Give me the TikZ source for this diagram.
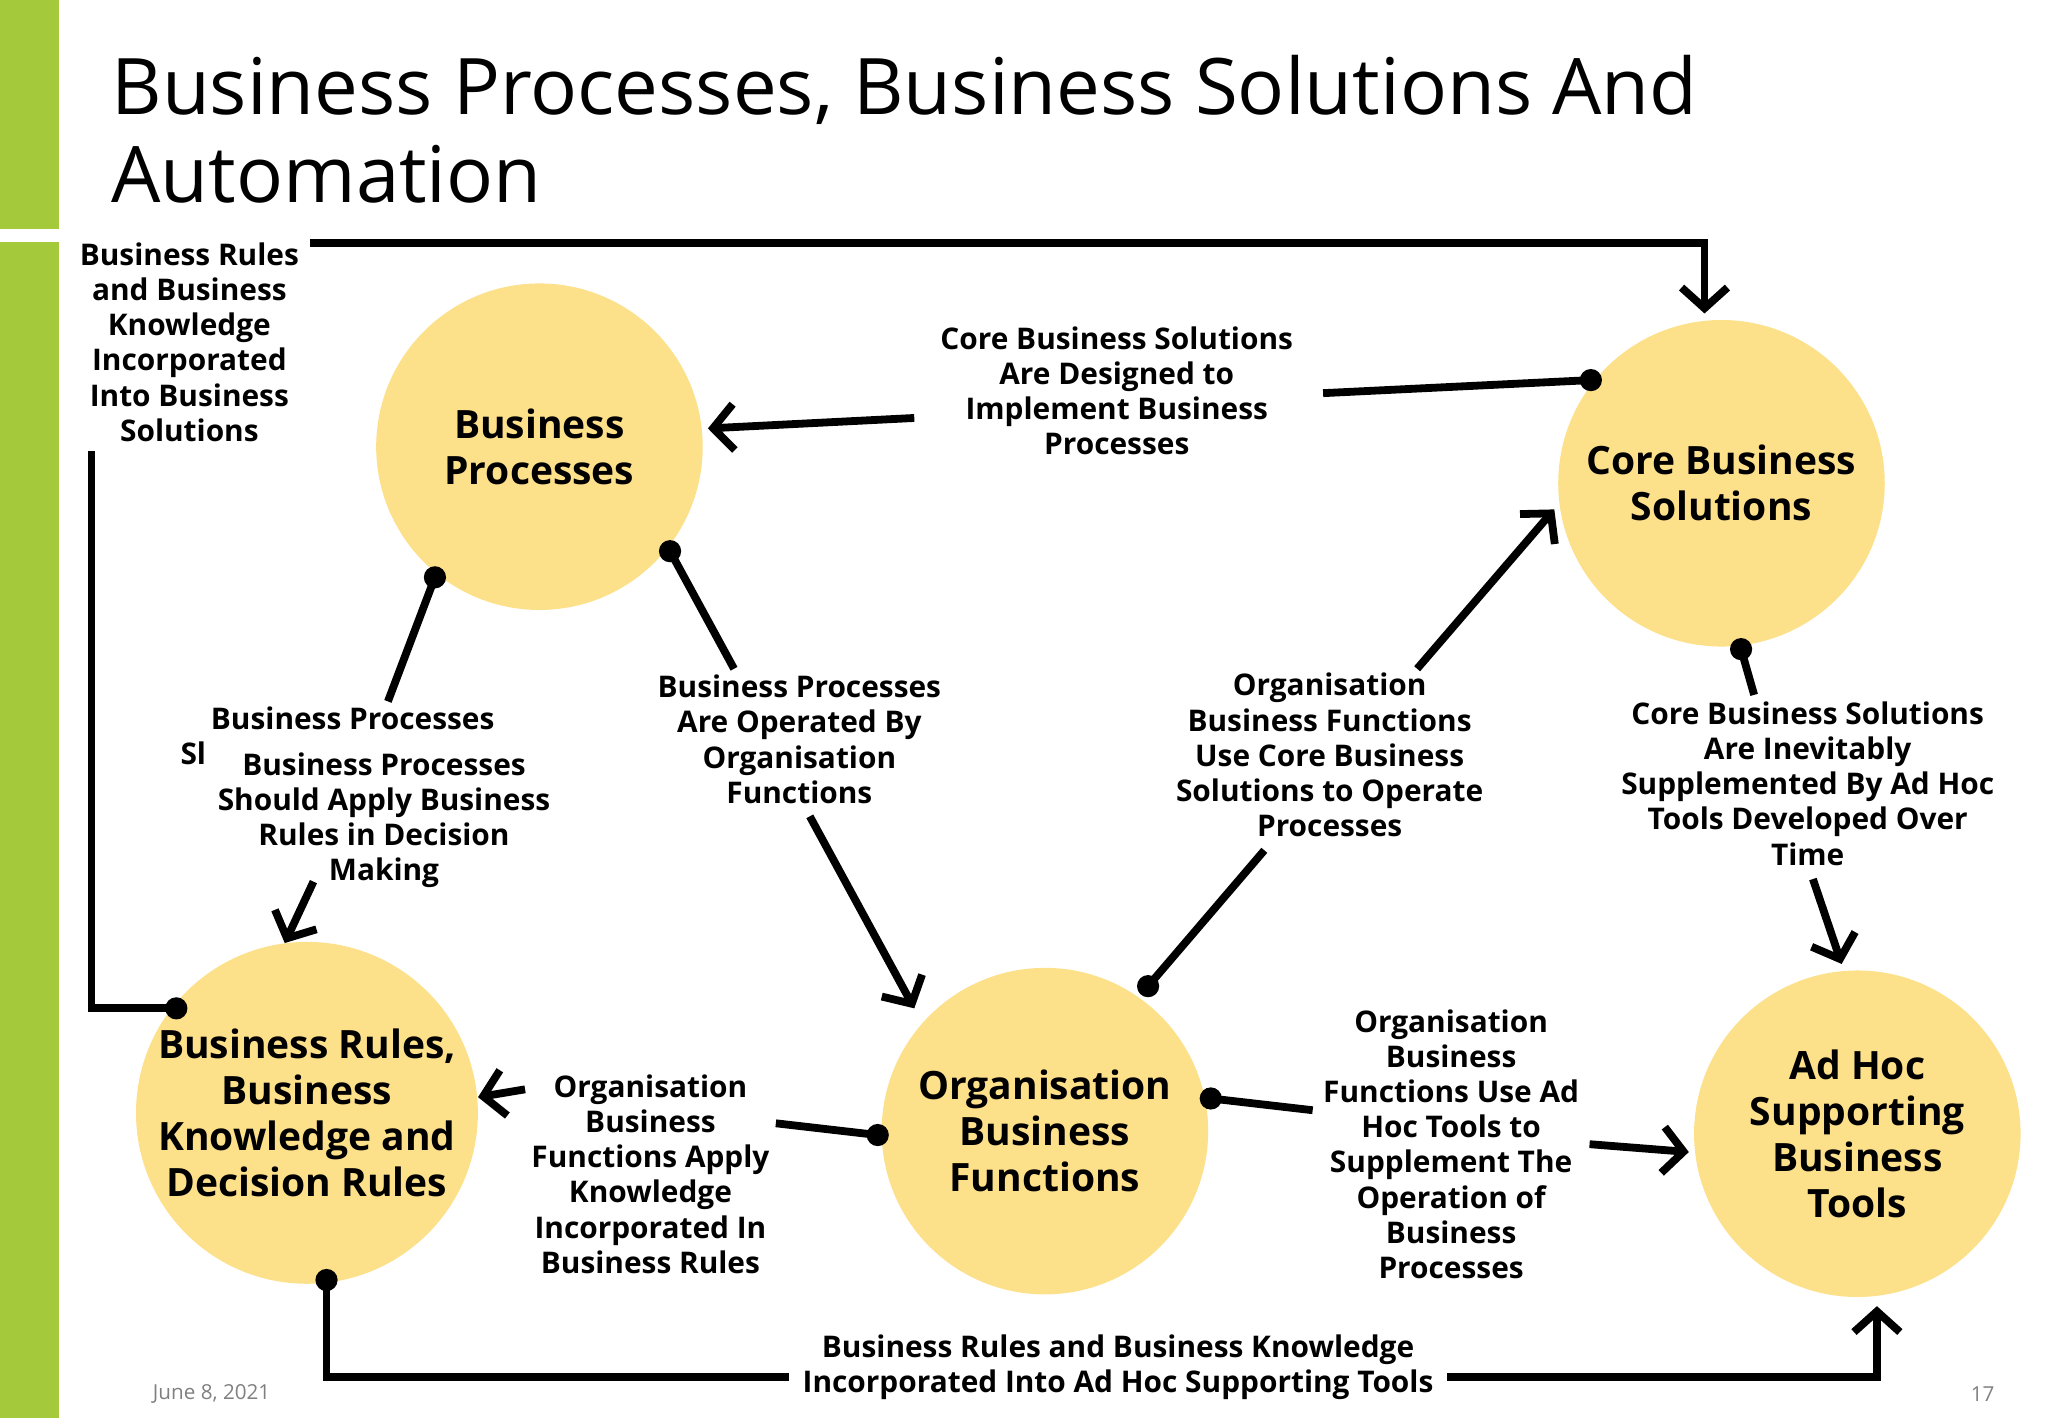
\documentclass[tikz,border=0pt]{standalone}
\usepackage{fontspec}
\setmainfont{Open Sans}
\usetikzlibrary{arrows.meta}
\definecolor{grn}{HTML}{A4C93A}
\definecolor{circ}{HTML}{FDE08A}
\begin{document}
\begin{tikzpicture}[x=0.02cm,y=-0.02cm,
 circ/.style={circle,fill=circ,minimum size=250*0.02cm,inner sep=0pt,align=center,font=\fontsize{17}{20}\selectfont\bfseries},
 lab/.style={align=center,font=\fontsize{13}{15.3}\selectfont\bfseries,inner sep=0pt},
 con/.style={line width=3.4pt},
 arr/.style={con,-{Straight Barb[length=9pt,width=20pt,line width=3.4pt]}},
 dot/.style={circle,fill=black,minimum size=0.34cm,inner sep=0pt}]
\useasboundingbox (0,0) rectangle (1568,1086);
\fill[grn] (0,0) rectangle (45,175);
\fill[grn] (0,185) rectangle (45,1086);
\node[anchor=north west,align=left,inner sep=0pt,font=\fontsize{34}{38.5}\selectfont] (title) at (85,42) {Business Processes, Business Solutions And\\Automation};
\node[circ] (bp) at (413,342) {Business\\Processes};
\node[circ] (cbs) at (1318,370) {Core Business\\Solutions};
\node[circ] (br) at (235,852) {Business Rules,\\Business\\Knowledge and\\Decision Rules};
\node[circ] (obf) at (800,866) {Organisation\\Business\\Functions};
\node[circ] (ah) at (1422,868) {Ad Hoc\\Supporting\\Business\\Tools};
% labels
\node[lab] (l1) at (145,262) {Business Rules\\and Business\\Knowledge\\Incorporated\\Into Business\\Solutions};
\node[lab] (l2) at (855,299) {Core Business Solutions\\Are Designed to\\Implement Business\\Processes};
\node[lab] (l3a) at (270,550) {Business Processes};
\node[lab] (l3b) at (148,577) {Sl};
\node[lab] (l3) at (294,628) {Business Processes\\Should Apply Business\\Rules in Decision\\Making};
\node[lab] (l4) at (612,566) {Business Processes\\Are Operated By\\Organisation\\Functions};
\node[lab] (l5) at (1018,578) {Organisation\\Business Functions\\Use Core Business\\Solutions to Operate\\Processes};
\node[lab] (l6) at (1384,600) {Core Business Solutions\\Are Inevitably\\Supplemented By Ad Hoc\\Tools Developed Over\\Time};
\node[lab] (l7) at (498,899) {Organisation\\Business\\Functions Apply\\Knowledge\\Incorporated In\\Business Rules};
\node[lab] (l8) at (1111,876) {Organisation\\Business\\Functions Use Ad\\Hoc Tools to\\Supplement The\\Operation of\\Business\\Processes};
\node[lab] (l9) at (856,1047) {Business Rules and Business Knowledge\\Incorporated Into Ad Hoc Supporting Tools};
% dots
\node[dot] (d1) at (135,772) {};
\node[dot] (d2) at (1218,291) {};
\node[dot] (d3) at (333,442) {};
\node[dot] (d4) at (513,422) {};
\node[dot] (d5) at (879,755) {};
\node[dot] (d6) at (1333,497) {};
\node[dot] (d7) at (672,869) {};
\node[dot] (d8) at (927,841) {};
\node[dot] (d9) at (250,980) {};
% free ends
\coordinate (a1) at (70,345); \coordinate (b1) at (237,186); \coordinate (t1) at (1305,240);
\coordinate (a2) at (1013,301); \coordinate (b2) at (700,320); \coordinate (t2) at (542,328);
\coordinate (a3) at (297,537); \coordinate (b3) at (240,675); \coordinate (t3) at (218,722);
\coordinate (a4) at (562,512); \coordinate (b4) at (620,625); \coordinate (t4) at (700,772);
\coordinate (a5) at (968,651); \coordinate (b5) at (1085,512); \coordinate (t5) at (1190,390);
\coordinate (a6) at (1343,532); \coordinate (b6) at (1388,673); \coordinate (t6) at (1410,738);
\coordinate (a7) at (594,860); \coordinate (b7) at (402,834); \coordinate (t7) at (366,840);
\coordinate (a8) at (1005,850); \coordinate (b8) at (1217,876); \coordinate (t8) at (1293,882);
\coordinate (a9) at (604,1054); \coordinate (b9) at (1108,1054); \coordinate (t9) at (1437,1000);
\draw[con] (d1.center) -- (70,772) -- (a1);
\draw[arr] (b1) -- (1305,186) -- (t1);
\draw[con] (d2.center) -- (a2); \draw[arr] (b2) -- (t2);
\draw[con] (d3.center) -- (a3); \draw[arr] (b3) -- (t3);
\draw[con] (d4.center) -- (a4); \draw[arr] (b4) -- (t4);
\draw[con] (d5.center) -- (a5); \draw[arr] (b5) -- (t5);
\draw[con] (d6.center) -- (a6); \draw[arr] (b6) -- (t6);
\draw[con] (d7.center) -- (a7); \draw[arr] (b7) -- (t7);
\draw[con] (d8.center) -- (a8); \draw[arr] (b8) -- (t8);
\draw[con] (d9.center) -- (250,1054) -- (a9);
\draw[arr] (b9) -- (1437,1054) -- (t9);
\node[text=gray,font=\fontsize{9}{10}\selectfont] (date) at (162,1067) {June 8, 2021};
\node[text=gray,font=\fontsize{9}{10}\selectfont] (pg) at (1518,1067) {17};
\end{tikzpicture}
\end{document}
